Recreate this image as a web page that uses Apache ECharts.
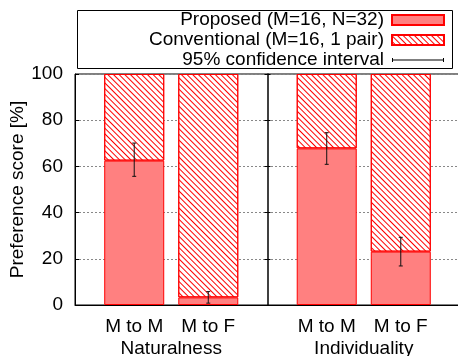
<!DOCTYPE html>
<html>
<head>
<meta charset="utf-8">
<script src="https://cdn.jsdelivr.net/npm/echarts@6/dist/echarts.min.js"></script>
<style>
html,body{margin:0;padding:0;background:#fff;}
#chart{width:458px;height:356px;}
</style>
</head>
<body>
<div id="chart"></div>
<script>
// ---- data ----
const categories = ['M to M', 'M to F', 'M to M', 'M to F'];
const groups = ['Naturalness', 'Individuality'];
const slots = [1, 2, 3.6, 4.6];          // x slot of each bar
const groupCenters = [1.5, 4.1];         // x slot of each group label
const separatorSlot = 2.8;
const proposed = [62.5, 3.3, 67.8, 23.1];
const conventional = [37.5, 96.7, 32.2, 76.9];
const ciLow = [55.7, 0.8, 60.9, 16.9];
const ciHigh = [70.1, 5.8, 74.6, 29.3];
const seriesNames = ['Proposed (M=16, N=32)', 'Conventional (M=16, 1 pair)', '95% confidence interval'];

const FONT = 'Liberation Sans';
const FS = 19;
const XMIN = 0.2, XMAX = 5.4;
const GRID_L = 75, GRID_W = 385;

function nearest(arr, v) {
  let bi = 0;
  arr.forEach((a, i) => { if (Math.abs(a - v) < Math.abs(arr[bi] - v)) bi = i; });
  return bi;
}

const chart = echarts.init(document.getElementById('chart'), null, {renderer: 'canvas'});
const sepOffset = -(GRID_W * (XMAX - separatorSlot) / (XMAX - XMIN));

const option = {
  animation: false,
  textStyle: {fontFamily: FONT, color: '#000'},
  grid: {
    left: GRID_L, top: 74, bottom: 51, right: 458 - GRID_L - GRID_W,
    show: true, borderColor: '#000', borderWidth: 1, containLabel: false,
    outerBoundsMode: 'none'
  },
  graphic: [{
    type: 'rect', shape: {x: 77.5, y: 10.5, width: 375, height: 58},
    style: {fill: 'none', stroke: '#000', lineWidth: 1}, z: 10
  }],
  legend: {
    orient: 'vertical', align: 'right', right: 13, top: 10, padding: 0,
    itemWidth: 52, itemHeight: 10, itemGap: 0,
    textStyle: {fontFamily: FONT, fontSize: FS, color: '#000', lineHeight: 20, padding: [0, 3, 0, 0]},
    data: [
      {name: seriesNames[0], icon: 'rect'},
      {name: seriesNames[1], icon: 'rect'},
      {name: seriesNames[2], icon: 'path://M0,4.5h52v1h-52z M0,3h1v4h-1z M51,3h1v4h-1z', itemStyle: {color: '#000'}}
    ]
  },
  xAxis: [{
    type: 'value', min: XMIN, max: XMAX,
    axisLine: {show: true, lineStyle: {color: '#000', width: 1}},
    axisTick: {show: false}, splitLine: {show: false},
    axisLabel: {
      customValues: slots, margin: 12, fontSize: FS, color: '#000', fontFamily: FONT,
      formatter: v => categories[nearest(slots, v)]
    }
  }, {
    type: 'value', min: XMIN, max: XMAX, position: 'bottom', offset: 22,
    axisLine: {show: false}, axisTick: {show: false}, splitLine: {show: false},
    axisLabel: {
      customValues: groupCenters, margin: 12, fontSize: FS, color: '#000', fontFamily: FONT,
      formatter: v => groups[nearest(groupCenters, v)]
    }
  }],
  yAxis: [{
    type: 'value', min: 0, max: 100, interval: 20,
    name: 'Preference score [%]', nameLocation: 'middle', nameGap: 48, nameMoveOverlap: false,
    nameTextStyle: {fontSize: FS, color: '#000', fontFamily: FONT},
    axisLine: {show: true, lineStyle: {color: '#000', width: 1}},
    axisTick: {show: true, inside: true, length: 4, lineStyle: {color: '#000'}},
    axisLabel: {fontSize: FS, color: '#000', margin: 12, fontFamily: FONT},
    splitLine: {show: true, lineStyle: {color: '#888', type: [2, 2], width: 1}}
  }, {
    type: 'value', min: 0, max: 100, interval: 20, position: 'right', offset: sepOffset,
    axisLine: {show: true, lineStyle: {color: '#000', width: 1.5}},
    axisTick: {show: true, inside: false, length: 3, lineStyle: {color: '#000'}},
    axisLabel: {show: false}, splitLine: {show: false}
  }, {
    type: 'value', min: 0, max: 100, interval: 20, position: 'right', offset: sepOffset,
    axisLine: {show: false},
    axisTick: {show: true, inside: true, length: 3, lineStyle: {color: '#000'}},
    axisLabel: {show: false}, splitLine: {show: false}
  }],
  series: [{
    name: seriesNames[0], type: 'bar', stack: 'total', barWidth: 60,
    itemStyle: {color: '#ff8080', borderColor: '#ff0000', borderWidth: 1},
    encode: {x: 1, y: 0},
    data: slots.map((x, i) => [proposed[i], x])
  }, {
    name: seriesNames[1], type: 'bar', stack: 'total', barWidth: 60,
    itemStyle: {
      color: '#ffffff', borderColor: '#ff0000', borderWidth: 1,
      decal: {symbol: 'rect', symbolSize: 1, dashArrayX: [1, 0], dashArrayY: [1, 3], rotation: Math.PI / 4, color: '#ff0000'}
    },
    encode: {x: 1, y: 0},
    data: slots.map((x, i) => [conventional[i], x])
  }, {
    name: seriesNames[2], type: 'custom', z: 5,
    itemStyle: {color: '#000'},
    renderItem: function (params, api) {
      const x = api.value(0);
      const lo = api.coord([x, api.value(1)]);
      const hi = api.coord([x, api.value(2)]);
      const c = 2;
      const st = {stroke: '#111', lineWidth: 1, fill: 'none'};
      return {
        type: 'group', children: [
          {type: 'line', shape: {x1: lo[0], y1: lo[1], x2: hi[0], y2: hi[1]}, style: st},
          {type: 'line', shape: {x1: lo[0] - c, y1: lo[1], x2: lo[0] + c, y2: lo[1]}, style: st},
          {type: 'line', shape: {x1: hi[0] - c, y1: hi[1], x2: hi[0] + c, y2: hi[1]}, style: st}
        ]
      };
    },
    encode: {x: 0, y: [1, 2]},
    data: slots.map((x, i) => [x, ciLow[i], ciHigh[i]])
  }]
};
chart.setOption(option);
</script>
</body>
</html>
